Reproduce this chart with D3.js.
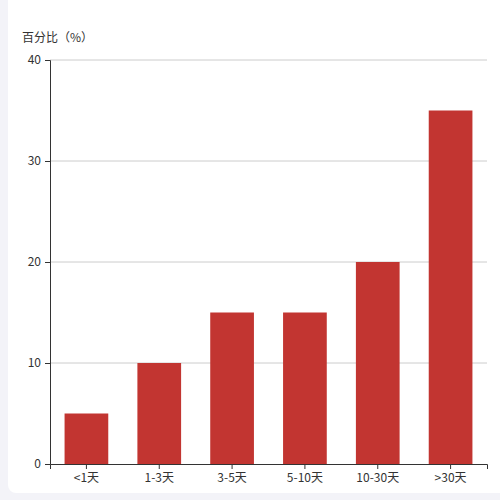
<!DOCTYPE html>
<html><head><meta charset="utf-8">
<script src="https://cdn.jsdelivr.net/npm/d3@7"></script>
<style>
body{margin:0;background:#f3f3f8;font-family:"Noto Sans CJK SC","Noto Sans",sans-serif;}
#wrap{position:absolute;left:8px;top:0;width:492px;height:493px;background:#fff;border-radius:0 0 0 8px;}
</style></head><body>
<div id="wrap"></div>
<script>
var categories = ["<1天","1-3天","3-5天","5-10天","10-30天",">30天"];
var values = [5,10,15,15,20,35];
var yTicks = [0,10,20,30,40];

var margin = {top: 60, right: 13, bottom: 36, left: 42},
    width = 492 - margin.left - margin.right,
    height = 500 - margin.top - margin.bottom;

var svg = d3.select("#wrap").append("svg")
    .attr("width", 492).attr("height", 500)
  .append("g")
    .attr("transform", "translate(" + margin.left + "," + margin.top + ")");

var x = d3.scaleBand().domain(categories).range([0, width]).paddingInner(0.4).paddingOuter(0.2);
var y = d3.scaleLinear().domain([0, 40]).range([height, 0]);

// gridlines
svg.selectAll(".grid").data(yTicks.slice(1)).enter().append("line")
    .attr("x1", 0).attr("x2", width)
    .attr("y1", function(d){ return y(d); }).attr("y2", function(d){ return y(d); })
    .attr("stroke", "#ccc");

svg.selectAll(".bar").data(values).enter().append("rect")
    .attr("x", function(d, i){ return x(categories[i]); })
    .attr("width", x.bandwidth())
    .attr("y", function(d){ return y(d); })
    .attr("height", function(d){ return height - y(d); })
    .attr("fill", "#c23531");

var xa = svg.append("g").attr("transform", "translate(0," + height + ")")
    .call(d3.axisBottom(x).tickSizeOuter(0).tickSize(5).tickPadding(4));
var ya = svg.append("g").call(d3.axisLeft(y).tickValues(yTicks).tickSizeOuter(0).tickSize(5).tickPadding(4));
[xa, ya].forEach(function(a){
  a.selectAll("path,line").attr("stroke", "#333");
  a.selectAll("text").attr("fill", "#333").style("font-size", "12px")
   .style("font-family", "'Noto Sans CJK SC','Noto Sans',sans-serif");
});

svg.append("text").attr("x", -28).attr("y", -18)
    .attr("fill", "#333").style("font-size", "12px").text("百分比（%）");
</script>
</body></html>
